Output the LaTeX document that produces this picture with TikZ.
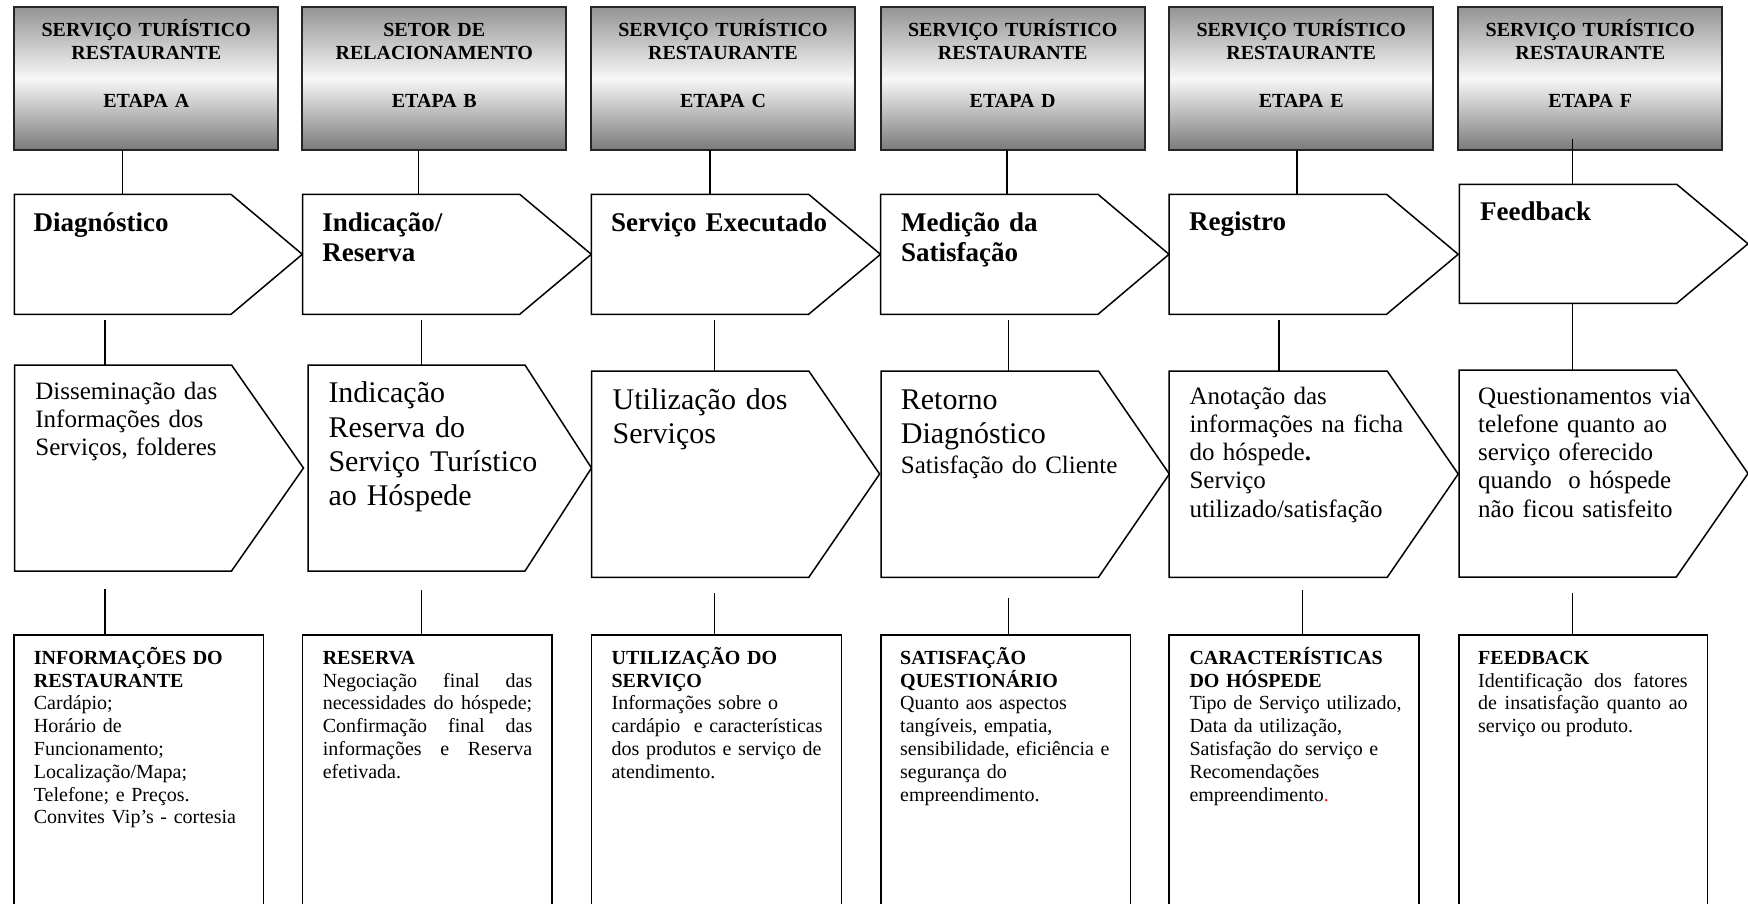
\documentclass[tikz,border=0pt]{standalone}
\usepackage{fontspec}
\setmainfont{Liberation Serif}
\usetikzlibrary{calc}
\tikzset{
  ln/.style={line width=1.5pt, line join=miter},
  hdr/.style={draw=black!85, line width=2pt, top color=black!42, bottom color=black!52, middle color=black!3,
    minimum width=264pt, minimum height=142.7pt, anchor=north west, inner sep=0pt, outer sep=0pt},
  body/.style={inner sep=0pt, outer sep=0pt, anchor=north west},
  bx/.style={draw, line width=1.5pt, fill=white, anchor=north west, minimum width=249.5pt,
    minimum height=320pt, inner sep=0pt, outer sep=0pt},
  hdrtxt/.style={anchor=base, text width=260pt, align=center, inner sep=0pt,
    font=\fontsize{20}{22.6}\selectfont\bfseries},
  ttl/.style={anchor=base west, text width=260pt, align=left, inner sep=0pt,
    font=\fontsize{27}{30.7}\selectfont\bfseries},
  big/.style={anchor=base west, text width=300pt, align=left, inner sep=0pt,
    font=\fontsize{30}{34.4}\selectfont},
  med/.style={anchor=base west, text width=300pt, align=left, inner sep=0pt,
    font=\fontsize{25}{28.2}\selectfont},
  sml/.style={anchor=base west, text width=235pt, align=left, inner sep=0pt,
    font=\fontsize{20}{22.8}\selectfont},
  smj/.style={anchor=base west, text width=209.5pt, align=justify, inner sep=0pt,
    font=\fontsize{20}{22.8}\selectfont},
}
\newcommand\mypent[7]{%
  \node[body, minimum width=#4pt, minimum height=#5pt] (#1) at (#2,#3) {};
  \coordinate (#1-tip) at (#6,#7);
  \draw[ln, fill=white] (#1.north west) -- (#1.north east) -- (#1-tip) -- (#1.south east) -- (#1.south west) -- cycle;}
\begin{document}
\begin{tikzpicture}[x=1pt,y=-1pt]
\useasboundingbox (0,0) rectangle (1748,903);
\clip (0,0) rectangle (1748,903);
\fill[white] (0,0) rectangle (1748,903);

% ---------- headers ----------
\node[hdr] (hA) at (14.3,7.3) {};
\node[hdr] (hB) at (302.3,7.3) {};
\node[hdr] (hC) at (591,7.3) {};
\node[hdr] (hD) at (880.7,7.3) {};
\node[hdr] (hE) at (1169,7.3) {};
\node[hdr] (hF) at (1458.3,7.3) {};

\node[hdrtxt] (hAt) at (146.3,36.7) {SERVIÇO TURÍSTICO\\RESTAURANTE\\[25.4pt]ETAPA A};
\node[hdrtxt] (hBt) at (434.3,36.7) {SETOR DE\\RELACIONAMENTO\\[25.4pt]ETAPA B};
\node[hdrtxt] (hCt) at (723,36.7) {SERVIÇO TURÍSTICO\\RESTAURANTE\\[25.4pt]ETAPA C};
\node[hdrtxt] (hDt) at (1012.7,36.7) {SERVIÇO TURÍSTICO\\RESTAURANTE\\[25.4pt]ETAPA D};
\node[hdrtxt] (hEt) at (1301.2,36.7) {SERVIÇO TURÍSTICO\\RESTAURANTE\\[25.4pt]ETAPA E};
\node[hdrtxt] (hFt) at (1590.3,36.7) {SERVIÇO TURÍSTICO\\RESTAURANTE\\[25.4pt]ETAPA F};

% ---------- row 2 pentagons ----------
\mypent{tA}{14.3}{194.3}{216.7}{120}{302.3}{254.3}
\mypent{tB}{302.5}{194.3}{217.2}{120}{591.3}{254.3}
\mypent{tC}{591.3}{194.3}{217.3}{120}{880.5}{254.3}
\mypent{tD}{880.5}{194.3}{217.5}{120}{1169}{254.3}
\mypent{tE}{1169}{194.3}{217.5}{120}{1458.2}{254.3}
\mypent{tF}{1459.3}{184.3}{217.4}{119}{1748}{243.8}

% ---------- row 3 pentagons ----------
\mypent{mA}{14.5}{365}{217}{206}{303.5}{468}
\mypent{mB}{308}{365}{217}{206}{591.5}{468}
\mypent{mC}{591.5}{371}{217.3}{206.3}{879.6}{474}
\mypent{mD}{881}{371}{217.5}{206.3}{1169.3}{474}
\mypent{mE}{1169}{371}{218.2}{206.3}{1458.2}{474}
\mypent{mF}{1459}{370}{217.3}{207}{1748}{473.5}

% ---------- row 4 boxes ----------
\node[bx] (bA) at (13.8,635) {};
\node[bx] (bB) at (302.3,635) {};
\node[bx, minimum width=249.9pt] (bC) at (591.5,635) {};
\node[bx, minimum width=249.1pt] (bD) at (881.2,635) {};
\node[bx, minimum width=249.9pt] (bE) at (1169,635) {};
\node[bx, minimum width=248.6pt] (bF) at (1459,635) {};

% ---------- connectors header -> row 2 ----------
\coordinate (kA) at (122.3,0);
\coordinate (kB) at (418.6,0);
\coordinate (kC) at (710,0);
\coordinate (kD) at (1007,0);
\coordinate (kE) at (1296.8,0);
\coordinate (kF) at (1572.7,139.3);
\draw[ln] (hA.south -| kA) -- (tA.north -| kA);
\draw[ln] (hB.south -| kB) -- (tB.north -| kB);
\draw[ln] (hC.south -| kC) -- (tC.north -| kC);
\draw[ln] (hD.south -| kD) -- (tD.north -| kD);
\draw[ln] (hE.south -| kE) -- (tE.north -| kE);
\draw[ln] (kF) -- (tF.north -| kF);

% ---------- connectors row 2 -> row 3 ----------
\coordinate (nA) at (105.2,320);
\coordinate (nB) at (421.3,320);
\coordinate (nC) at (714.7,320);
\coordinate (nD) at (1008.6,320);
\coordinate (nE) at (1279,320);
\coordinate (nF) at (1572.7,0);
\draw[ln] (nA) -- (mA.north -| nA);
\draw[ln] (nB) -- (mB.north -| nB);
\draw[ln] (nC) -- (mC.north -| nC);
\draw[ln] (nD) -- (mD.north -| nD);
\draw[ln] (nE) -- (mE.north -| nE);
\draw[ln] (tF.south -| nF) -- (mF.north -| nF);

% ---------- connectors row 3 -> row 4 ----------
\coordinate (qA) at (105.2,589);
\coordinate (qB) at (421.3,590);
\coordinate (qC) at (714.7,593.3);
\coordinate (qD) at (1008.6,598.3);
\coordinate (qE) at (1302.6,590);
\coordinate (qF) at (1572.6,593.3);
\draw[ln] (qA) -- (bA.north -| qA);
\draw[ln] (qB) -- (bB.north -| qB);
\draw[ln] (qC) -- (bC.north -| qC);
\draw[ln] (qD) -- (bD.north -| qD);
\draw[ln] (qE) -- (bE.north -| qE);
\draw[ln] (qF) -- (bF.north -| qF);

% ---------- row 2 titles ----------
\node[ttl] (tAt) at (33.5,231) {Diagnóstico};
\node[ttl] (tBt) at (322.2,231) {Indicação/\\Reserva};
\node[ttl] (tCt) at (611,231) {Serviço Executado};
\node[ttl] (tDt) at (901,231) {Medição da\\Satisfação};
\node[ttl] (tEt) at (1189,230) {Registro};
\node[ttl] (tFt) at (1480,220) {Feedback};

% ---------- row 3 texts ----------
\node[med] (mAt) at (35.2,399) {Disseminação das\\Informações dos\\Serviços, folderes};
\node[big] (mBt) at (328.3,402.7) {Indicação\\Reserva do\\Serviço Turístico\\ao Hóspede};
\node[big] (mCt) at (612.5,409.3) {Utilização dos\\Serviços};
\node[big] (mDt) at (900.7,409.3) {Retorno\\Diagnóstico};
\node[med] (mDs) at (900.7,473.3) {Satisfação do Cliente};
\node[med] (mEt) at (1189.3,404.3) {Anotação das\\informações na ficha\\do hóspede{\bfseries .}\\Serviço\\utilizado/satisfação};
\node[med] (mFt) at (1478,404.3) {Questionamentos via\\telefone quanto ao\\serviço oferecido\\quando~ o hóspede\\não ficou satisfeito};

% ---------- row 4 texts ----------
\node[sml] (bAt) at (33.7,664.3) {\textbf{INFORMAÇÕES DO}\\\textbf{RESTAURANTE}\\Cardápio;\\Horário de\\Funcionamento;\\Localização/Mapa;\\Telefone; e Preços.\\Convites Vip’s - cortesia};
\node[smj] (bBt) at (322.6,664.3) {\textbf{RESERVA}\\Negociação final das\linebreak necessidades do hóspede;\linebreak Confirmação final das\linebreak informações e Reserva\linebreak efetivada.};
\node[sml] (bCt) at (611.4,664.3) {\textbf{UTILIZAÇÃO DO}\\\textbf{SERVIÇO}\\Informações sobre o\\cardápio~ e características\\dos produtos e serviço de\\atendimento.};
\node[sml] (bDt) at (900,664.3) {\textbf{SATISFAÇÃO}\\\textbf{QUESTIONÁRIO}\\Quanto aos aspectos\\tangíveis, empatia,\\sensibilidade, eficiência e\\segurança do\\empreendimento.};
\node[sml] (bEt) at (1189.3,664.3) {\textbf{CARACTERÍSTICAS}\\\textbf{DO HÓSPEDE}\\Tipo de Serviço utilizado,\\Data da utilização,\\Satisfação do serviço e\\Recomendações\\empreendimento\textcolor{red}{.}};
\node[smj] (bFt) at (1478,664.3) {\textbf{FEEDBACK}\\Identificação dos fatores\linebreak de insatisfação quanto ao\linebreak serviço ou produto.};
\end{tikzpicture}
\end{document}
